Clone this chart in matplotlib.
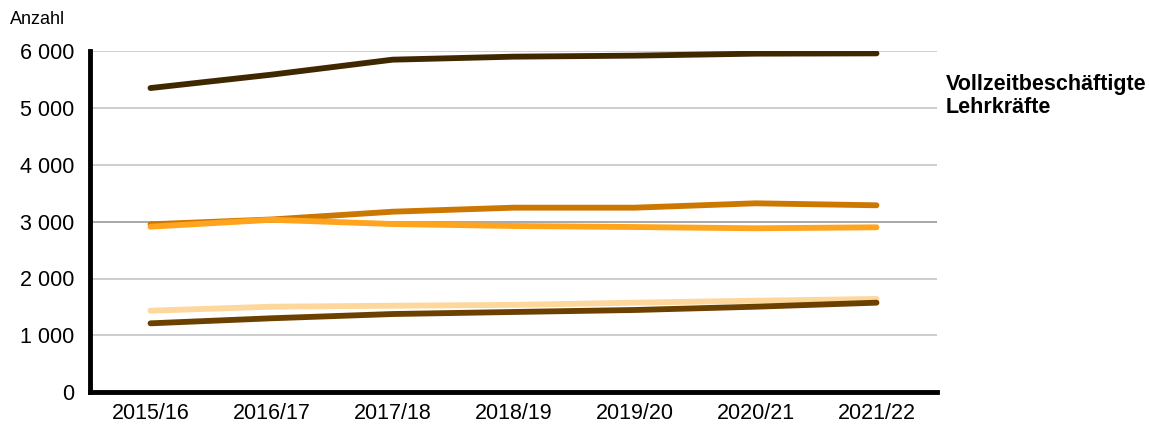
import matplotlib.pyplot as plt
import numpy as np

plt.rcParams['font.family'] = ['Liberation Sans', 'DejaVu Sans']

# school years on the x axis
years = ["2015/16", "2016/17", "2017/18", "2018/19", "2019/20", "2020/21", "2021/22"]

# teacher counts per series
vollzeit = [5356, 5592, 5856, 5909, 5927, 5962, 5967]
orange_dark = [2955, 3040, 3177, 3248, 3248, 3325, 3290]
orange_light = [2913, 3035, 2960, 2925, 2907, 2885, 2902]
beige = [1433, 1503, 1520, 1535, 1574, 1609, 1639]
brown = [1210, 1299, 1374, 1410, 1445, 1503, 1574]

yticks = [0, 1000, 2000, 3000, 4000, 5000, 6000]
ytick_labels = ["0", "1 000", "2 000", "3 000", "4 000", "5 000", "6 000"]

fig = plt.figure(figsize=(11.49, 4.26), dpi=100)
ax = fig.add_axes([90 / 1149, 1 - 392 / 426, (937 - 90) / 1149, (392 - 51.5) / 426])

x = np.arange(len(years))

# gridlines (3 000 line is a bit darker in the original)
for v in yticks[1:]:
    col = "#9a9a9a" if v == 3000 else "#c6c6c6"
    ax.axhline(v, color=col, linewidth=1.2, zorder=1)

lw = 4.2
ax.plot(x, beige, color="#fdd79c", linewidth=lw, solid_capstyle="round", zorder=3)
ax.plot(x, brown, color="#6c4100", linewidth=lw, solid_capstyle="round", zorder=4)
ax.plot(x, orange_dark, color="#cc7700", linewidth=lw, solid_capstyle="round", zorder=3)
ax.plot(x, orange_light, color="#ffa41c", linewidth=lw, solid_capstyle="round", zorder=4)
ax.plot(x, vollzeit, color="#3f2800", linewidth=lw, solid_capstyle="round", zorder=5)

ax.set_xlim(-0.5, len(years) - 0.5)
ax.set_ylim(0, 6000)
ax.set_yticks(yticks)
ax.set_yticklabels(ytick_labels, fontsize=15.5)
ax.set_xticks(x)
ax.set_xticklabels(years, fontsize=15.5)
ax.tick_params(axis="both", length=0)
ax.tick_params(axis="y", pad=11)
ax.tick_params(axis="x", pad=8)

for side in ["top", "right"]:
    ax.spines[side].set_visible(False)
ax.spines["left"].set_linewidth(3.5)
ax.spines["bottom"].set_linewidth(3.5)
ax.spines["left"].set_capstyle("projecting")
ax.spines["bottom"].set_capstyle("projecting")

fig.text(10 / 1149, 1 - 20 / 426, "Anzahl", fontsize=13, va="center", ha="left")
fig.text(946 / 1149, 1 - 96 / 426, "Vollzeitbeschäftigte\nLehrkräfte", fontsize=15.5,
         fontweight="bold", va="center", ha="left", linespacing=1.1)

fig.savefig("out.png", dpi=100)
